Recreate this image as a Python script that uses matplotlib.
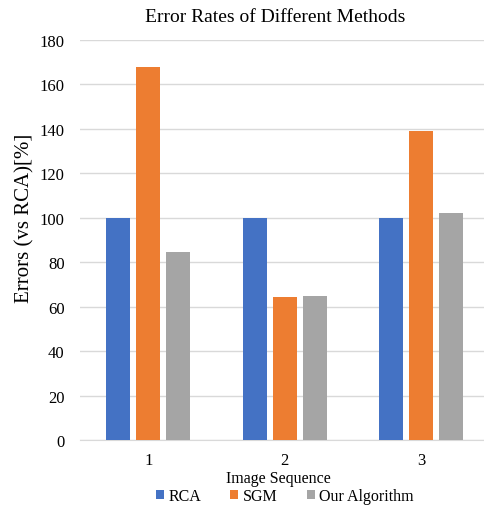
import matplotlib.pyplot as plt
import numpy as np

plt.rcParams["font.family"] = ["Liberation Serif", "DejaVu Serif"]

# Data
sequences = ["1", "2", "3"]
rca = [100, 100, 100]
sgm = [168, 64.5, 139]
ours = [84.5, 65, 102]

x = np.arange(len(sequences))
width = 0.176
offset = 0.22

fig = plt.figure(figsize=(4.84, 5.1), dpi=100)
ax = fig.add_axes([80 / 484, 69 / 510, 404 / 484, 400 / 510])

ax.bar(x - offset, rca, width, label="RCA", color="#4472C4", zorder=3)
ax.bar(x, sgm, width, label="SGM", color="#ED7D31", zorder=3)
ax.bar(x + offset, ours, width, label="Our Algorithm", color="#A5A5A5", zorder=3)

ax.set_xlim(-0.5, -0.5 + 404 / 136.5)
ax.set_ylim(0, 180)
ax.set_yticks(np.arange(0, 181, 20))
ax.set_xticks(x)
ax.set_xticklabels(sequences)
ax.tick_params(axis="both", length=0, labelsize=12)
ax.tick_params(axis="x", pad=9)
ax.tick_params(axis="y", pad=11)

ax.grid(axis="y", color="#d9d9d9", linewidth=1, zorder=0)
for s in ["top", "right", "left"]:
    ax.spines[s].set_visible(False)
ax.spines["bottom"].set_color("#d9d9d9")

fig.text(25 / 484, 1 - 218 / 510, "Errors (vs RCA)[%]", rotation=90,
         ha="center", va="center", fontsize=15)
fig.text(278 / 484, 1 - 479 / 510, "Image Sequence",
         ha="center", va="center", fontsize=11.5)
fig.text(275 / 484, 1 - 18 / 510, "Error Rates of Different Methods",
         ha="center", va="center", fontsize=14)

fig.legend(loc="center", bbox_to_anchor=(285 / 484, 1 - 497 / 510), ncol=3,
           frameon=False, fontsize=11.5, handlelength=0.5, handleheight=0.5,
           handletextpad=0.3, columnspacing=1.8, borderpad=0)

plt.savefig("out.png")
